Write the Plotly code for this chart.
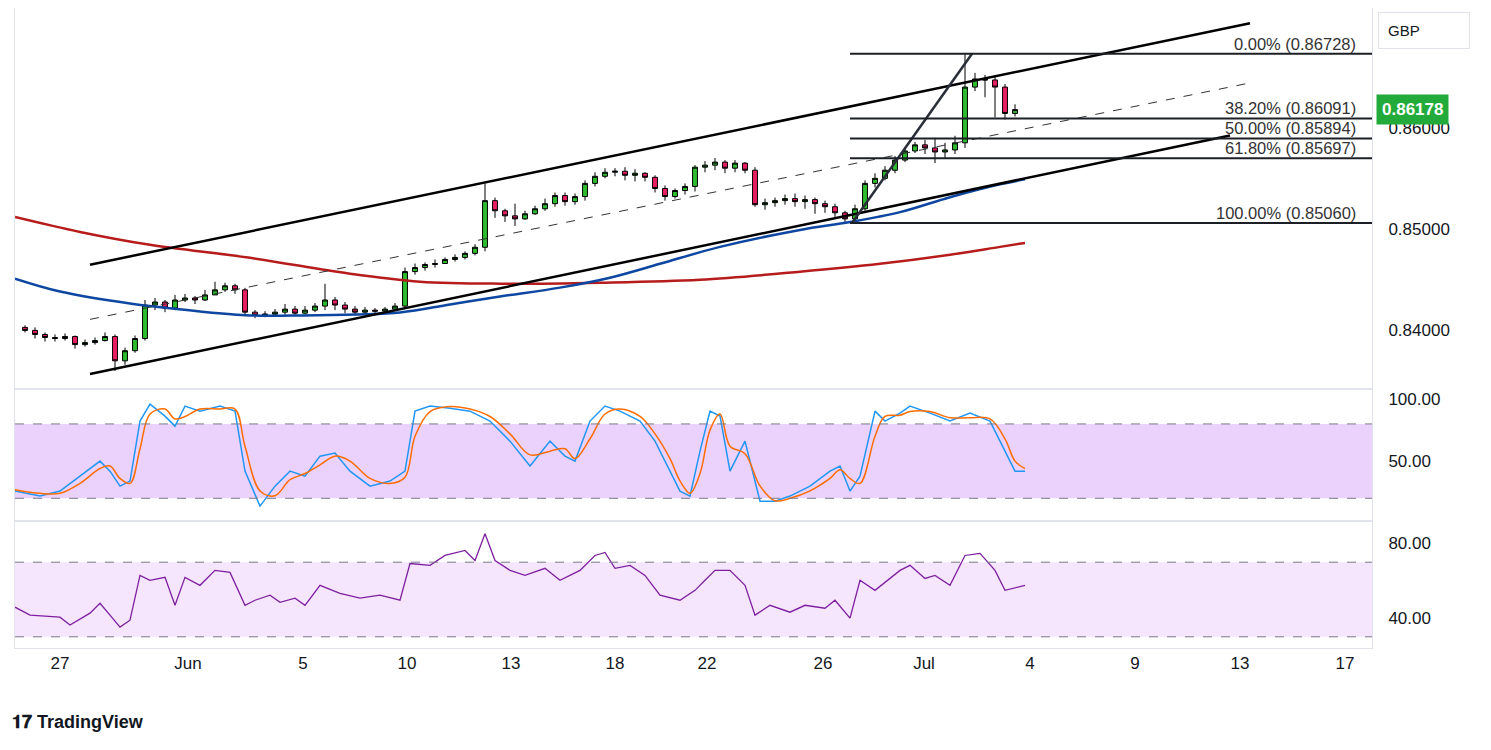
import plotly.graph_objects as go
from plotly.subplots import make_subplots

# 4h candles, x = bar index
first_open = 0.8403
close = [0.8400, 0.8396, 0.8393, 0.8392, 0.8394, 0.8386, 0.8388, 0.8390, 0.8394, 0.8370,
         0.8380, 0.8392, 0.8425, 0.8428, 0.8422, 0.8430, 0.8432, 0.8430, 0.8435, 0.8440,
         0.8444, 0.8440, 0.8418, 0.8415, 0.8416, 0.8418, 0.8421, 0.8417, 0.8420, 0.8424,
         0.8430, 0.8425, 0.8421, 0.8418, 0.8420, 0.8419, 0.8421, 0.8424, 0.8458, 0.8462,
         0.8465, 0.8466, 0.8470, 0.8472, 0.8476, 0.8482, 0.8528, 0.8518, 0.8513, 0.8510,
         0.8515, 0.8520, 0.8525, 0.8533, 0.8527, 0.8532, 0.8545, 0.8552, 0.8556, 0.8557,
         0.8553, 0.8555, 0.8551, 0.8540, 0.8532, 0.8538, 0.8542, 0.8561, 0.8563, 0.8566,
         0.8560, 0.8565, 0.8558, 0.8524, 0.8526, 0.8528, 0.8530, 0.8527, 0.8529, 0.8525,
         0.8522, 0.8516, 0.8510, 0.8520, 0.8545, 0.8550, 0.8558, 0.8568, 0.8577, 0.8583,
         0.8580, 0.8576, 0.8578, 0.8585, 0.8640, 0.8648, 0.8647, 0.8640, 0.8614, 0.86178]
high = [0.8405, 0.8403, 0.8398, 0.8396, 0.8397, 0.8395, 0.8391, 0.8393, 0.8398, 0.8396,
        0.8383, 0.8395, 0.8430, 0.8432, 0.8430, 0.8435, 0.8436, 0.8434, 0.8440, 0.8448,
        0.8447, 0.8446, 0.8442, 0.8420, 0.8419, 0.8421, 0.8426, 0.8424, 0.8424, 0.8427,
        0.8446, 0.8433, 0.8428, 0.8424, 0.8423, 0.8422, 0.8423, 0.8427, 0.8462, 0.8466,
        0.8467, 0.8470, 0.8472, 0.8475, 0.8478, 0.8485, 0.8545, 0.8531, 0.8520, 0.8525,
        0.8518, 0.8523, 0.8530, 0.8536, 0.8536, 0.8535, 0.8548, 0.8556, 0.8560, 0.8560,
        0.8561, 0.8559, 0.8556, 0.8553, 0.8543, 0.8540, 0.8545, 0.8563, 0.8567, 0.8570,
        0.8568, 0.8568, 0.8566, 0.8561, 0.8530, 0.8531, 0.8534, 0.8535, 0.8533, 0.8531,
        0.8528, 0.8525, 0.8518, 0.8524, 0.8548, 0.8555, 0.8562, 0.8572, 0.8580, 0.8586,
        0.8588, 0.8590, 0.8585, 0.8592, 0.86728, 0.8654, 0.8652, 0.8650, 0.8643, 0.8623]
low = [0.8398, 0.8392, 0.8389, 0.8389, 0.8390, 0.8382, 0.8384, 0.8386, 0.8389, 0.8360,
       0.8366, 0.8378, 0.8390, 0.8420, 0.8418, 0.8420, 0.8428, 0.8426, 0.8429, 0.8435,
       0.8438, 0.8436, 0.8414, 0.8412, 0.8413, 0.8414, 0.8415, 0.8414, 0.8416, 0.8418,
       0.8420, 0.8420, 0.8417, 0.8415, 0.8416, 0.8416, 0.8418, 0.8419, 0.8422, 0.8455,
       0.8459, 0.8462, 0.8466, 0.8468, 0.8470, 0.8474, 0.8478, 0.8511, 0.8507, 0.8503,
       0.8509, 0.8514, 0.8518, 0.8522, 0.8523, 0.8524, 0.8528, 0.8542, 0.8550, 0.8552,
       0.8548, 0.8547, 0.8547, 0.8536, 0.8528, 0.8530, 0.8534, 0.8537, 0.8556, 0.8558,
       0.8555, 0.8556, 0.8555, 0.8522, 0.8519, 0.8522, 0.8524, 0.8522, 0.8520, 0.8515,
       0.8516, 0.8512, 0.8506, 0.8509, 0.8518, 0.8541, 0.8548, 0.8555, 0.8566, 0.8575,
       0.8574, 0.8565, 0.8570, 0.8574, 0.8580, 0.8636, 0.8630, 0.8610, 0.8608, 0.8611]
open_ = [first_open] + close[:-1]
bars = list(range(len(close)))

ma_fast_x = [-1, 3.5, 10.5, 17.5, 22.5, 27.5, 37.5, 42.5, 47.5, 53.5, 58.5, 63.5, 69.5, 77.5, 82.5, 87.5, 92.5, 97.5, 100]
ma_fast = [0.84510, 0.84383, 0.84265, 0.84187, 0.84148, 0.84148, 0.84177, 0.84256, 0.84334, 0.84422,
           0.84520, 0.84657, 0.84824, 0.84991, 0.85069, 0.85167, 0.85314, 0.85441, 0.85490]
ma_slow_x = [-1, 5.5, 12.5, 22.5, 32.5, 39.5, 47.5, 57.5, 67.5, 77.5, 85.5, 92.5, 97.5, 100]
ma_slow = [0.85118, 0.84971, 0.84844, 0.84716, 0.84559, 0.84481, 0.84461, 0.84471, 0.84500,
           0.84579, 0.84657, 0.84746, 0.84824, 0.84863]

stoch_x = [-1, 1.5, 3.5, 5.5, 7.5, 8.5, 9.5, 10.5, 11.5, 12.5, 14, 15, 16, 17.5, 19.5, 21, 22, 23.5, 25, 26.5,
           28, 29.5, 31, 32.5, 34.5, 36.5, 38, 39, 40.5, 42.5, 44.5, 46.5, 48.5, 50.5, 52.5, 54, 55, 56.5, 58, 59.5,
           61.5, 63, 64.5, 65.5, 66.5, 67.5, 68.5, 69.5, 70.5, 72, 73.5, 75, 76.5, 78.5, 80.5, 81.5, 82.5, 83.5, 85, 86,
           87.5, 88.5, 90.5, 92.5, 94.5, 96.5, 98, 99, 100]
stoch_k = [25.8, 21.8, 25.8, 37.9, 50, 41.9, 29.8, 33.9, 82.3, 96, 86.3, 78.2, 94.4, 90.3, 94.4, 90.3, 41.9, 13.7, 29.8, 41.9,
           37.9, 54, 56.5, 41.9, 29.8, 33.9, 41.9, 90.3, 94.4, 92.7, 90.3, 82.3, 66.1, 46, 66.1, 54, 50, 82.3, 94.4, 90.3,
           82.3, 66.1, 41.9, 25.8, 21.8, 58, 90.3, 86.3, 41.9, 66.1, 17.7, 17.7, 21.8, 29.8, 41.9, 46, 25.8, 37.9, 90.3, 82.3,
           88.7, 94.4, 88.7, 82.3, 88.7, 82.3, 58, 41.9, 41.9]
stoch_d = [27, 24, 24, 32, 44, 46, 36, 32, 60, 88, 92, 84, 86, 92, 92, 92, 62, 26, 22, 35,
           40, 47, 54, 50, 36, 32, 37, 70, 90, 94, 92, 86, 72, 55, 58, 60, 52, 68, 88, 92,
           86, 72, 52, 34, 24, 40, 75, 88, 62, 56, 30, 18, 20, 26, 36, 43, 36, 32, 70, 86,
           87, 90, 90, 85, 85, 84, 68, 50, 44]

rsi_x = [-1, 0.5, 3.5, 4.5, 6.5, 7.5, 8.5, 9.5, 10.5, 11.5, 12.5, 14, 15, 16, 17.5, 19, 20.5, 22, 23, 24.5,
         25.5, 27, 28, 29.5, 31.5, 33.5, 35.5, 37.5, 38.5, 40.5, 42, 44, 45, 46, 47, 48.5, 50, 52, 53.5, 55.5,
         57, 58, 59, 60.5, 62, 63.5, 65.5, 67, 68, 69, 70.5, 72, 73, 74.5, 76.5, 78, 80, 81, 82.5, 83.5,
         85, 86, 87.5, 88.5, 90, 91, 92.5, 94, 95.5, 97, 98, 100]
rsi = [45.9, 41.6, 40.5, 36.3, 42.7, 48.0, 41.6, 35.2, 38.9, 62.9, 60.3, 61.9, 46.9, 61.9, 57.6, 65.6, 64.5, 46.9, 49.6, 52.3,
       48.5, 50.7, 46.9, 57.6, 53.3, 50.7, 52.3, 49.6, 69.3, 68.3, 73.6, 76.3, 70.9, 85.3, 70.9, 65.6, 62.9, 66.7, 60.3, 65.6,
       73.6, 75.2, 66.7, 68.3, 62.9, 52.3, 49.6, 54.9, 60.3, 65.6, 65.6, 57.6, 41.6, 46.9, 43.2, 46.9, 45.3, 49.6, 40.0, 60.3,
       54.9, 59.2, 65.6, 68.3, 61.3, 62.9, 57.6, 73.6, 74.7, 65.6, 54.9, 57.6]

fib_levels = [0.86728, 0.86091, 0.85894, 0.85697, 0.85060]
fib_labels = ["0.00% (0.86728)", "38.20% (0.86091)", "50.00% (0.85894)", "61.80% (0.85697)", "100.00% (0.85060)"]

tick_pos = [3.5, 16.3, 27.8, 38.2, 48.6, 59, 68.2, 79.8, 89.9, 100.5, 111, 121.5, 132]
tick_text = ["27", "Jun", "5", "10", "13", "18", "22", "26", "Jul", "4", "9", "13", "17"]

FONT = "Liberation Sans, Arial, sans-serif"
TXT = "#131722"
XR = [-1, 134.7]

fig = make_subplots(rows=3, cols=1, shared_xaxes=True, vertical_spacing=0,
                    row_heights=[383, 132, 128])

fig.add_trace(go.Scatter(x=ma_slow_x, y=ma_slow, mode="lines", line=dict(color="#b71c1c", width=2.5, shape="spline"),
                         hoverinfo="skip"), row=1, col=1)
fig.add_trace(go.Scatter(x=ma_fast_x, y=ma_fast, mode="lines", line=dict(color="#0d47a1", width=2.5, shape="spline"),
                         hoverinfo="skip"), row=1, col=1)
fig.add_trace(go.Candlestick(x=bars, open=open_, high=high, low=low, close=close,
                             increasing=dict(fillcolor="#2ebd2e", line=dict(color="#000000", width=1)),
                             decreasing=dict(fillcolor="#e91e63", line=dict(color="#000000", width=1)),
                             whiskerwidth=0), row=1, col=1)

fig.add_trace(go.Scatter(x=stoch_x, y=stoch_k, mode="lines", line=dict(color="#2196f3", width=1.5)), row=2, col=1)
fig.add_trace(go.Scatter(x=stoch_x, y=stoch_d, mode="lines", line=dict(color="#ff6d00", width=1.5, shape="spline")), row=2, col=1)
fig.add_trace(go.Scatter(x=rsi_x, y=rsi, mode="lines", line=dict(color="#7e1fa0", width=1.3)), row=3, col=1)

# channel and fib drawings
line_k = dict(color="#000000", width=2.5)
fig.add_shape(type="line", x0=6.5, y0=0.84648, x1=122.5, y1=0.87029, line=line_k, row=1, col=1)
fig.add_shape(type="line", x0=6.5, y0=0.83570, x1=120.5, y1=0.85922, line=line_k, row=1, col=1)
fig.add_shape(type="line", x0=6.5, y0=0.84109, x1=122.5, y1=0.86441,
              line=dict(color="#333333", width=1, dash="dash"), row=1, col=1)
fig.add_shape(type="line", x0=82.7, y0=0.85060, x1=94.7, y1=0.86728, line=dict(color="#2a2e39", width=2.5), row=1, col=1)
for lvl, lab in zip(fib_levels, fib_labels):
    fig.add_shape(type="line", x0=82.5, x1=XR[1], y0=lvl, y1=lvl, line=dict(color="#1c1f26", width=2), row=1, col=1)
    fig.add_annotation(x=133.3, y=lvl, text=lab, showarrow=False, xanchor="right", yanchor="bottom", yshift=-1,
                       font=dict(size=16.5, color="#333333", family=FONT), row=1, col=1)

fig.add_shape(type="rect", x0=XR[0], x1=XR[1], y0=20, y1=80, fillcolor="#ead2fc", line_width=0, layer="below", row=2, col=1)
fig.add_shape(type="rect", x0=XR[0], x1=XR[1], y0=30, y1=70, fillcolor="#f5e6fd", line_width=0, layer="below", row=3, col=1)
for y0, r in [(20, 2), (80, 2), (30, 3), (70, 3)]:
    fig.add_shape(type="line", x0=XR[0], x1=XR[1], y0=y0, y1=y0, line=dict(color="#787b86", width=1, dash="dash"), row=r, col=1)

# price label and currency box
fig.add_annotation(xref="paper", yref="y", x=1.0, y=0.86178, text="<b>0.86178</b>", showarrow=False,
                   xanchor="left", xshift=4, bgcolor="#22ab3a", borderpad=5,
                   font=dict(size=17, color="white", family=FONT))
fig.add_annotation(xref="paper", yref="paper", x=1.0, y=1.0, text="GBP", showarrow=False, xanchor="left",
                   yanchor="top", xshift=6, yshift=-4, bordercolor="#e0e3eb", borderwidth=1, borderpad=9,
                   font=dict(size=15, color=TXT, family=FONT), width=72, align="left")
fig.add_annotation(xref="paper", yref="paper", x=0, y=0, xshift=-5, yshift=-86, xanchor="left", showarrow=False,
                   text="<b>𝟏𝟕 TradingView</b>", font=dict(size=18, color=TXT, family=FONT))

yaxis_style = dict(side="right", showgrid=False, zeroline=False, ticks="", showline=True, linecolor="#e0e3eb",
                   tickfont=dict(size=17, color=TXT, family=FONT), ticklabelstandoff=12, mirror=True)
fig.update_yaxes(yaxis_style)
fig.update_yaxes(range=[0.8342, 0.8718], tickvals=[0.84, 0.85, 0.86], ticktext=["0.84000", "0.85000", "0.86000"], row=1, col=1)
fig.update_yaxes(range=[2, 108], tickvals=[50, 100], ticktext=["50.00", "100.00"], row=2, col=1)
fig.update_yaxes(range=[24, 92.3], tickvals=[40, 80], ticktext=["40.00", "80.00"], row=3, col=1)
fig.update_xaxes(range=XR, showgrid=False, zeroline=False, rangeslider_visible=False, showline=True,
                 linecolor="#e0e3eb", mirror=True)
fig.update_xaxes(tickvals=tick_pos, ticktext=tick_text, ticks="", tickfont=dict(size=17, color=TXT, family=FONT),
                 row=3, col=1)

# page body has an 8px margin, so the figure is drawn a bit smaller
fig.update_layout(width=1475, height=734, margin=dict(l=7, r=111, t=0, b=94, autoexpand=False),
                  plot_bgcolor="white", paper_bgcolor="white", showlegend=False, hovermode=False)
fig.write_html("out.html")
